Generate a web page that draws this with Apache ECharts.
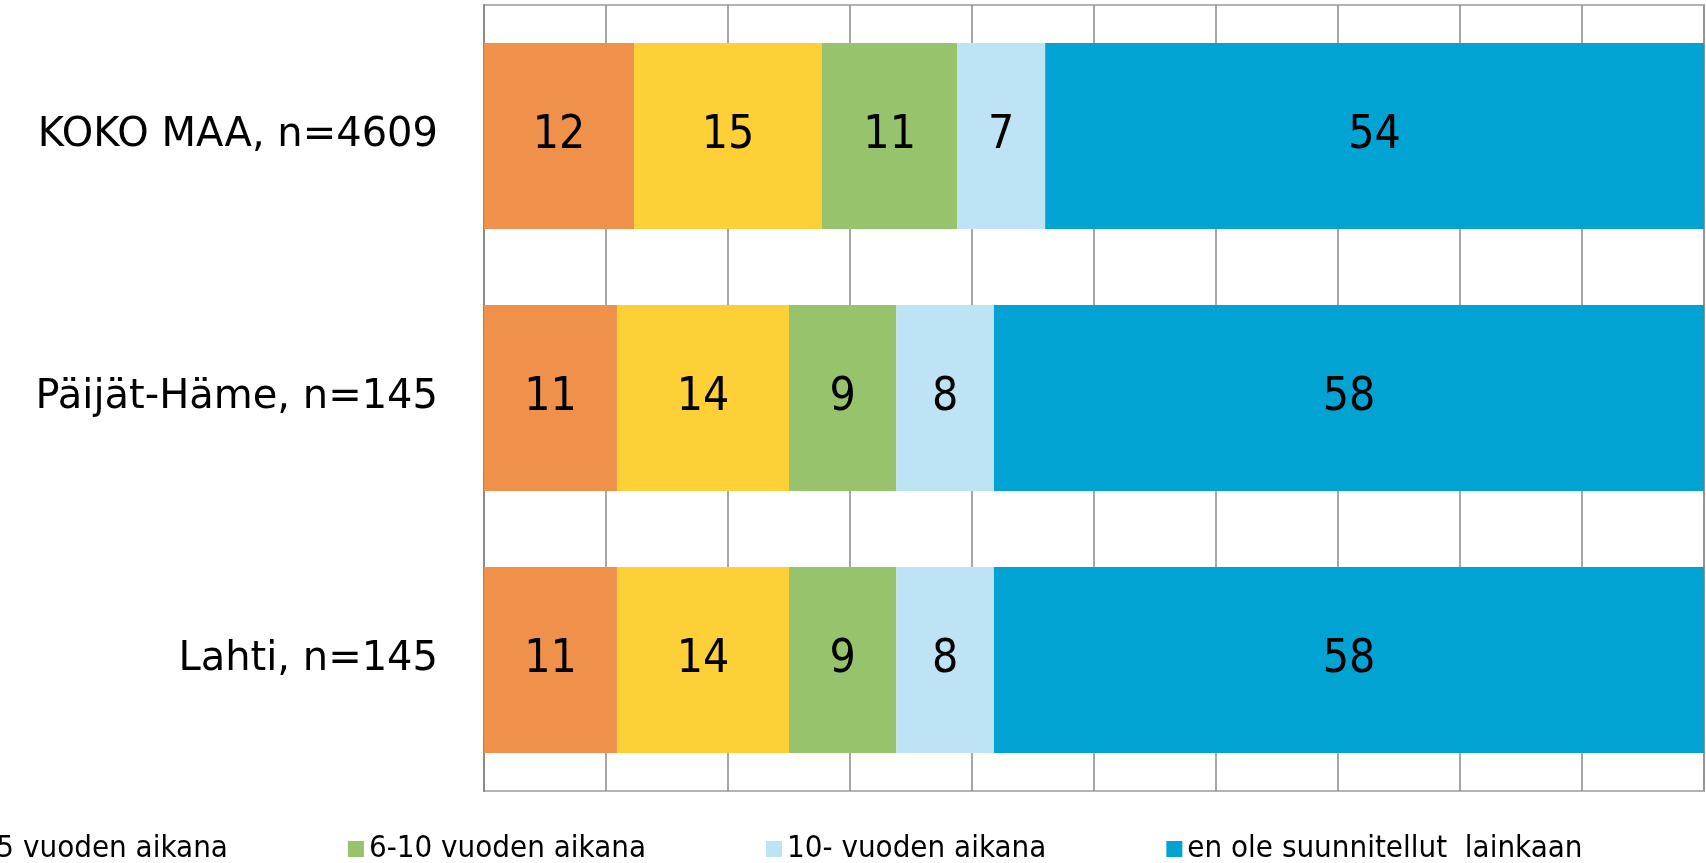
<!DOCTYPE html>
<html>
<head>
<meta charset="utf-8">
<script src="https://cdn.jsdelivr.net/npm/echarts@6/dist/echarts.min.js"></script>
<style>
html,body{margin:0;padding:0;background:#fff;}
#chart{width:1706px;height:863px;}
</style>
</head>
<body>
<div id="chart"></div>
<script>
const categories = ['KOKO MAA, n=4609', 'Päijät-Häme, n=145', 'Lahti, n=145'];
const seriesNames = ['alle vuoden aikana', '1-5 vuoden aikana', '6-10 vuoden aikana', '10- vuoden aikana', 'en ole suunnitellut  lainkaan'];
const s1 = [12.3, 10.9, 10.9];
const s2 = [15.4, 14.1, 14.1];
const s3 = [11.1, 8.8, 8.8];
const s4 = [7.2, 8.0, 8.0];
const s5 = [54.0, 58.2, 58.2];
const xTicks = [0, 10, 20, 30, 40, 50, 60, 70, 80, 90, 100];
const colors = ['#F0914B', '#FDD038', '#96C36B', '#BDE3F5', '#00A3D2'];

const allValues = [s1, s2, s3, s4, s5];
const narrow = "'Liberation Sans Narrow', 'DejaVu Sans Condensed', 'Liberation Sans', sans-serif";

const chart = echarts.init(document.getElementById('chart'), null, {renderer: 'canvas'});
chart.setOption({
  animation: false,
  backgroundColor: '#ffffff',
  color: colors,
  grid: {
    left: 484, right: 2, top: 5, bottom: 72,
    show: true, borderColor: '#b3b3b3', borderWidth: 2, backgroundColor: 'transparent'
  },
  legend: {
    left: -457, top: 831, padding: 0, width: 2800,
    itemWidth: 16, itemHeight: 16, itemGap: 120,
    icon: 'rect',
    textStyle: {fontFamily: narrow, fontSize: 31, color: '#000', lineHeight: 36},
    data: seriesNames
  },
  xAxis: {
    type: 'value', min: xTicks[0], max: xTicks[xTicks.length - 1], interval: xTicks[1] - xTicks[0],
    axisLabel: {show: false}, axisLine: {show: false}, axisTick: {show: false},
    splitLine: {show: true, lineStyle: {color: '#8a8a8a', width: 1.5}}
  },
  yAxis: {
    type: 'category', inverse: true, data: categories,
    axisLine: {show: true, lineStyle: {color: '#8a8a8a', width: 2}},
    axisTick: {show: false},
    axisLabel: {fontFamily: "'DejaVu Sans', Verdana, sans-serif", fontSize: 40, color: '#000', margin: 46}
  },
  series: seriesNames.map((name, i) => ({
    name: name, type: 'bar', stack: 'total', barWidth: 186,
    data: allValues[i],
    itemStyle: {color: colors[i]},
    label: {
      show: true, position: 'inside', color: '#000',
      fontFamily: narrow, fontSize: 46,
      formatter: p => Math.round(p.value)
    }
  }))
});
</script>
</body>
</html>
